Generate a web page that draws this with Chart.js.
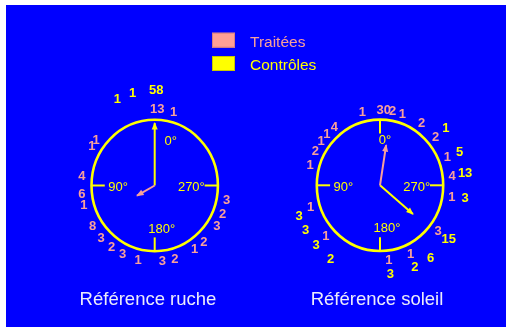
<!DOCTYPE html>
<html><head><meta charset="utf-8">
<style>html,body{margin:0;padding:0;background:#fff;overflow:hidden}canvas{display:block}</style>
<script src="https://cdn.jsdelivr.net/npm/chart.js@4"></script>
</head><body>
<canvas id="c" width="506" height="327"></canvas>
<script>
// ---- data ----
const dialTitles = ['Référence ruche', 'Référence soleil'];
const legendLabels = ['Traitées', 'Contrôles'];
const axisAngles = [0, 90, 180, 270];
const axisTickLabels = ['0°', '90°', '180°', '270°'];

// Reference "ruche" (hive)
const hiveTreatedAngles = [358, 345, 53, 59, 83, 96, 105, 122, 133, 144, 154, 167, 186, 196, 213, 222, 238, 248, 259];
const hiveTreatedCounts = [13, 1, 1, 1, 4, 6, 1, 8, 3, 2, 3, 1, 3, 2, 1, 2, 3, 2, 3];
const hiveControlAngles = [359, 14, 24];
const hiveControlCounts = [58, 1, 1];
const hiveMeanAngles = [119, 0];      // treated, control
const hiveMeanLengths = [0.32, 0.95];

// Reference "soleil" (sun)
const sunTreatedAngles = [14, 357, 350, 342, 325, 310, 292, 277, 261, 233, 205, 187, 132, 107, 74, 63, 54, 47, 39];
const sunTreatedCounts = [1, 30, 2, 1, 2, 2, 1, 4, 1, 3, 1, 1, 1, 1, 1, 2, 1, 1, 4];
const sunControlAngles = [310, 292, 278, 262, 233, 216, 204, 187, 145, 132, 120, 110];
const sunControlCounts = [1, 5, 13, 3, 15, 6, 2, 3, 2, 3, 3, 3];
const sunMeanAngles = [351, 230];
const sunMeanLengths = [0.62, 0.68];

// ---- style / layout ----
const PINK = '#f7a09a', YELLOW = '#ffff00', BLUE = '#0000ff', TITLE = '#ececfa';
const FONT = '"Liberation Sans", Arial, sans-serif';
const RX = 63.2, RY = 65.7;
const dials = [
  {cx: 154.7, cy: 185.5, ringT: 1.16, ringC: 1.45, ticks: [90, 180, 270], zeroShift: 16},
  {cx: 380, cy: 185.3, ringT: 1.15, ringC: 1.36, ticks: [0, 90, 180, 270], zeroShift: 5}
];
function polar(d, ang, r) {
  const a = ang * Math.PI / 180;
  return {x: d.cx - r * RX * Math.sin(a), y: d.cy - r * RY * Math.cos(a)};
}

const groups = [
  {dial: 0, angles: hiveTreatedAngles, counts: hiveTreatedCounts, color: PINK, ring: 'ringT'},
  {dial: 0, angles: hiveControlAngles, counts: hiveControlCounts, color: YELLOW, ring: 'ringC'},
  {dial: 1, angles: sunTreatedAngles, counts: sunTreatedCounts, color: PINK, ring: 'ringT'},
  {dial: 1, angles: sunControlAngles, counts: sunControlCounts, color: YELLOW, ring: 'ringC'}
];
const means = [
  {dial: 0, angle: hiveMeanAngles[0], len: hiveMeanLengths[0], color: PINK},
  {dial: 0, angle: hiveMeanAngles[1], len: hiveMeanLengths[1], color: YELLOW},
  {dial: 1, angle: sunMeanAngles[0], len: sunMeanLengths[0], color: PINK},
  {dial: 1, angle: sunMeanAngles[1], len: sunMeanLengths[1], color: YELLOW}
];

const datasets = [];
groups.forEach(g => {
  const d = dials[g.dial];
  datasets.push({
    label: 'counts', kind: 'counts', counts: g.counts, textColor: g.color,
    data: g.angles.map(a => polar(d, a, d[g.ring])),
    pointRadius: 0, showLine: false
  });
});
means.forEach(m => {
  const d = dials[m.dial];
  datasets.push({
    label: 'mean', kind: 'arrow',
    data: [{x: d.cx, y: d.cy}, polar(d, m.angle, m.len)],
    showLine: true, borderColor: m.color, borderWidth: 2, pointRadius: 0, fill: false
  });
});

const dialPlugin = {
  id: 'dials',
  beforeDraw(chart) {
    const ctx = chart.ctx;
    ctx.save();
    ctx.fillStyle = '#fff';
    ctx.fillRect(0, 0, chart.width, chart.height);
    ctx.fillStyle = BLUE;
    ctx.fillRect(6, 5, chart.width - 6, chart.height - 5);
    ctx.restore();
  },
  beforeDatasetsDraw(chart) {
    const ctx = chart.ctx, xs = chart.scales.x, ys = chart.scales.y;
    ctx.save();
    dials.forEach((d, i) => {
      const cx = xs.getPixelForValue(d.cx), cy = ys.getPixelForValue(d.cy);
      ctx.strokeStyle = YELLOW;
      ctx.lineWidth = 2.6;
      ctx.beginPath();
      ctx.ellipse(cx, cy, RX, RY, 0, 0, Math.PI * 2);
      ctx.stroke();
      ctx.lineWidth = 2;
      d.ticks.forEach(t => {
        const p1 = polar(d, t, 1), p2 = polar(d, t, 0.79);
        ctx.beginPath();
        ctx.moveTo(xs.getPixelForValue(p1.x), ys.getPixelForValue(p1.y));
        ctx.lineTo(xs.getPixelForValue(p2.x), ys.getPixelForValue(p2.y));
        ctx.stroke();
      });
      // axis labels
      ctx.fillStyle = YELLOW;
      ctx.font = '13px ' + FONT;
      ctx.textAlign = 'center';
      ctx.textBaseline = 'middle';
      axisAngles.forEach((a, k) => {
        const inset = (a === 0 || a === 180) ? 0.67 : 0.58;
        const p = polar(d, a, inset);
        let dx = 0, dy = 2;
        if (a === 0) { dx = d.zeroShift; dy = -0.5; }
        if (a === 180) { dx = 7; dy = -0.5; }
        ctx.fillText(axisTickLabels[k], xs.getPixelForValue(p.x) + dx, ys.getPixelForValue(p.y) + dy);
      });
    });
    ctx.restore();
  },
  afterDatasetsDraw(chart) {
    const ctx = chart.ctx;
    ctx.save();
    chart.data.datasets.forEach((ds, i) => {
      const meta = chart.getDatasetMeta(i);
      if (ds.kind === 'counts') {
        ctx.fillStyle = ds.textColor;
        ctx.font = 'bold 13px ' + FONT;
        ctx.textAlign = 'center';
        ctx.textBaseline = 'middle';
        meta.data.forEach((el, j) => ctx.fillText(String(ds.counts[j]), el.x, el.y + 0.5));
      } else if (ds.kind === 'arrow') {
        const a = meta.data[0], b = meta.data[1];
        const ang = Math.atan2(b.y - a.y, b.x - a.x);
        const L = 6.5, W = 3;
        ctx.fillStyle = ds.borderColor;
        ctx.beginPath();
        ctx.moveTo(b.x + Math.cos(ang) * 1, b.y + Math.sin(ang) * 1);
        ctx.lineTo(b.x - Math.cos(ang) * L - Math.sin(ang) * W, b.y - Math.sin(ang) * L + Math.cos(ang) * W);
        ctx.lineTo(b.x - Math.cos(ang) * L + Math.sin(ang) * W, b.y - Math.sin(ang) * L - Math.cos(ang) * W);
        ctx.closePath();
        ctx.fill();
      }
    });
    // titles
    ctx.fillStyle = TITLE;
    ctx.font = '18.5px ' + FONT;
    ctx.textAlign = 'center';
    ctx.textBaseline = 'alphabetic';
    ctx.fillText(dialTitles[0], 148, 305);
    ctx.fillText(dialTitles[1], 377, 305);
    // legend
    const boxes = [{y: 32.7, fill: '#ff9f96', stroke: '#d88080', text: PINK}, {y: 56, fill: YELLOW, stroke: '#c8c800', text: YELLOW}];
    ctx.font = '15.5px ' + FONT;
    ctx.textAlign = 'left';
    boxes.forEach((b, k) => {
      ctx.fillStyle = b.fill;
      ctx.fillRect(212, b.y, 23, 15);
      ctx.strokeStyle = b.stroke;
      ctx.lineWidth = 1;
      ctx.strokeRect(212.5, b.y + 0.5, 22, 14);
      ctx.fillStyle = b.text;
      ctx.fillText(legendLabels[k], 250, b.y + 14);
    });
    ctx.restore();
  }
};

new Chart(document.getElementById('c'), {
  type: 'scatter',
  data: {datasets},
  options: {
    responsive: false,
    animation: false,
    events: [],
    layout: {padding: 0},
    plugins: {legend: {display: false}, tooltip: {enabled: false}, title: {display: false}},
    scales: {
      x: {type: 'linear', min: 0, max: 506, display: false},
      y: {type: 'linear', min: 0, max: 327, reverse: true, display: false}
    }
  },
  plugins: [dialPlugin]
});
</script>
</body></html>
